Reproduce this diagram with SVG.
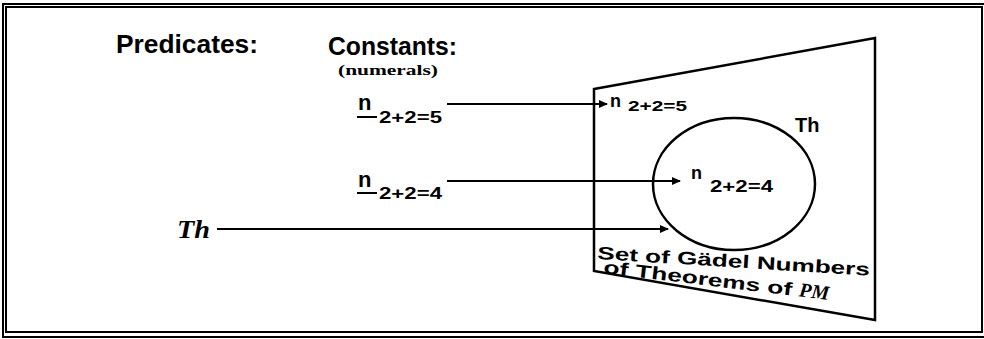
<svg xmlns="http://www.w3.org/2000/svg" width="984" height="339" viewBox="0 0 984 339">
<style>
.frame{fill:none;stroke:#000;stroke-width:2}
.shape{fill:none;stroke:#000;stroke-width:2.5}
.conn{stroke:#000;stroke-width:2;fill:none}
.hdr{font-family:"Liberation Sans",Arial,sans-serif;font-weight:bold;font-size:25px;fill:#000}
.small{font-family:"Liberation Serif","Times New Roman",serif;font-weight:bold;font-size:14px;fill:#000}
.lbl{font-family:"Liberation Sans",Arial,sans-serif;font-weight:bold;fill:#000}
.script{font-family:"Liberation Serif","Times New Roman",serif;font-weight:bold;font-style:italic;fill:#000}
</style>
<defs>
<marker id="arr" markerWidth="9" markerHeight="8" refX="8" refY="4" orient="auto" markerUnits="userSpaceOnUse">
<path d="M0,0 L9,4 L0,8 Z" fill="#000"/>
</marker>
</defs>
<rect width="984" height="339" fill="#fff"/>
<g id="frame">
<rect class="frame" x="3" y="4" width="990" height="333"/>
<rect class="frame" x="6" y="7" width="976" height="325"/>
</g>
<g id="headers">
<text class="hdr" x="116" y="53" textLength="142" lengthAdjust="spacingAndGlyphs">Predicates:</text>
<text class="hdr" x="328" y="55" textLength="129" lengthAdjust="spacingAndGlyphs">Constants:</text>
<text class="small" x="338" y="75" textLength="100" lengthAdjust="spacingAndGlyphs">(numerals)</text>
</g>
<g id="const1">
<text class="lbl" x="358" y="110" font-size="22">n</text>
<line x1="357" y1="117" x2="377" y2="117" stroke="#000" stroke-width="2"/>
<text class="lbl" x="379" y="123" font-size="17" textLength="63" lengthAdjust="spacingAndGlyphs">2+2=5</text>
</g>
<g id="const2">
<text class="lbl" x="358" y="187" font-size="22">n</text>
<line x1="357" y1="193" x2="377" y2="193" stroke="#000" stroke-width="2"/>
<text class="lbl" x="379" y="199" font-size="17" textLength="63" lengthAdjust="spacingAndGlyphs">2+2=4</text>
</g>
<g id="pred-th">
<text class="script" x="177" y="238" font-size="26" textLength="33" lengthAdjust="spacingAndGlyphs">Th</text>
</g>
<g id="godel-set">
<polygon class="shape" points="594,89 875,38 875,320 594,271"/>
<text class="lbl" font-size="18" transform="translate(597,259) rotate(3.5)" textLength="273" lengthAdjust="spacingAndGlyphs">Set of Gädel Numbers</text>
<text class="lbl" font-size="18" transform="translate(603,273) rotate(6.8)"><tspan textLength="197" lengthAdjust="spacingAndGlyphs">of Theorems of </tspan><tspan class="script" font-size="20">PM</tspan></text>
</g>
<g id="theorems">
<ellipse class="shape" cx="734" cy="184" rx="81" ry="66"/>
<text class="lbl" x="795" y="132" font-size="20">Th</text>
</g>
<g id="elem1">
<text class="lbl" x="610" y="107" font-size="18">n</text>
<text class="lbl" x="628" y="111" font-size="14" textLength="59" lengthAdjust="spacingAndGlyphs">2+2=5</text>
</g>
<g id="elem2">
<text class="lbl" x="691" y="179" font-size="18">n</text>
<text class="lbl" x="710" y="192" font-size="16" textLength="63" lengthAdjust="spacingAndGlyphs">2+2=4</text>
</g>
<g id="connectors">
<line class="conn" x1="447" y1="104" x2="607" y2="104" marker-end="url(#arr)"/>
<line class="conn" x1="447" y1="181" x2="680" y2="181" marker-end="url(#arr)"/>
<line class="conn" x1="217" y1="229" x2="668" y2="229" marker-end="url(#arr)"/>
</g>
</svg>
